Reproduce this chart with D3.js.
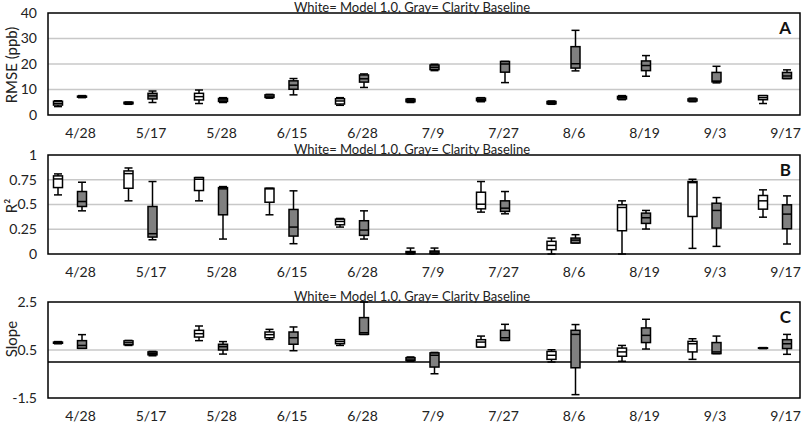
<!DOCTYPE html>
<html><head><meta charset="utf-8">
<script src="https://cdn.jsdelivr.net/npm/d3@7/dist/d3.min.js"></script>
<style>body{margin:0;background:#fff;} svg{display:block;font-family:Lato,"Open Sans",sans-serif;}</style>
</head><body><svg id="c" width="803" height="423"></svg>
<script>
const dates = ["4/28","5/17","5/28","6/15","6/28","7/9","7/27","8/6","8/19","9/3","9/17"];
const titleText = "White= Model 1.0, Gray= Clarity Baseline";
// [min, q1, median, q3, max]
const rmseWhite = [[3.3,3.9,4.6,5.4,5.6],[4.2,4.4,4.7,5.0,5.1],[4.5,5.9,7.2,8.5,9.8],[6.6,6.9,7.4,7.9,8.1],[3.8,4.3,5.5,6.4,6.8],[4.9,5.2,5.7,6.2,6.4],[5.2,5.6,6.0,6.6,6.8],[4.2,4.4,4.8,5.3,5.5],[6.0,6.3,6.8,7.3,7.6],[5.2,5.5,5.9,6.3,6.6],[4.5,6.0,6.8,7.6,7.6]];
const rmseGray = [[6.8,7.0,7.2,7.4,7.6],[4.9,6.3,7.5,8.5,9.4],[4.9,5.3,5.9,6.5,6.8],[7.9,10.1,11.7,13.4,14.3],[10.8,12.9,14.2,15.7,16.1],[17.4,17.8,18.7,19.6,19.9],[12.7,16.8,20.0,21.0,21.0],[17.3,18.4,20.1,26.8,33.2],[15.2,17.4,19.4,21.2,23.3],[12.6,13.0,13.3,16.7,19.1],[14.3,14.3,15.3,16.7,17.7]];
const r2White = [[0.597,0.671,0.758,0.789,0.809],[0.537,0.664,0.812,0.839,0.869],[0.537,0.641,0.755,0.772,0.772],[0.396,0.523,0.658,0.664,0.664],[0.272,0.295,0.329,0.352,0.359],[0.0,0.005,0.015,0.025,0.06],[0.423,0.456,0.503,0.624,0.732],[0.0,0.044,0.087,0.128,0.161],[0.0,0.235,0.470,0.497,0.537],[0.057,0.379,0.721,0.732,0.755],[0.372,0.453,0.537,0.591,0.648]];
const r2Gray = [[0.436,0.480,0.530,0.631,0.725],[0.144,0.171,0.205,0.480,0.732],[0.151,0.396,0.658,0.671,0.681],[0.104,0.181,0.272,0.450,0.638],[0.151,0.188,0.242,0.336,0.436],[0.0,0.005,0.02,0.03,0.06],[0.406,0.430,0.463,0.537,0.631],[0.111,0.111,0.14,0.161,0.195],[0.252,0.309,0.366,0.413,0.440],[0.077,0.262,0.440,0.513,0.570],[0.101,0.255,0.403,0.497,0.587]];
const slopeWhite = [[0.76,0.78,0.80,0.83,0.85],[0.69,0.72,0.80,0.88,0.90],[0.89,1.04,1.18,1.32,1.50],[0.94,1.01,1.14,1.25,1.36],[0.69,0.76,0.85,0.93,0.93],[0.03,0.06,0.12,0.18,0.21],[0.625,0.625,0.83,0.93,1.08],[0.0,0.11,0.28,0.44,0.51],[0.03,0.24,0.42,0.58,0.69],[0.11,0.42,0.76,0.86,0.97],[0.56,0.57,0.58,0.59,0.60]];
const slopeGray = [[0.57,0.57,0.69,0.89,1.14],[0.26,0.30,0.36,0.42,0.44],[0.33,0.50,0.64,0.74,0.85],[0.47,0.74,1.01,1.25,1.46],[1.15,1.15,1.22,1.85,2.5],[-0.49,-0.21,0.28,0.38,0.40],[0.90,0.90,1.01,1.32,1.57],[-1.36,-0.24,1.15,1.32,1.56],[0.54,0.81,1.11,1.42,1.78],[0.35,0.35,0.42,0.81,1.08],[0.32,0.56,0.76,0.93,1.15]];
const rmseTicks = [0,10,20,30,40];
const r2Ticks = [0,0.25,0.5,0.75,1];
const slopeTicks = [-1.5,0.5,2.5];

const svg = d3.select("#c");
const L = 48, R = 800;
const x = d3.scalePoint().domain(dates).range([70, 775]);
const off = 12, bw = 9, cw = 8;

const panels = [
  {top:13, bottom:115, domain:[0,40], ticks:rmseTicks, grid:[10,20,30], white:rmseWhite, gray:rmseGray, letter:"A", ylab:"RMSE (ppb)", ylabY:65, fmt:d=>d},
  {top:155, bottom:254, domain:[0,1], ticks:r2Ticks, grid:[0.25,0.5,0.75], white:r2White, gray:r2Gray, letter:"B", ylab:"R²", ylabY:206, fmt:d=>d},
  {top:302, bottom:398, domain:[-1.5,2.5], ticks:slopeTicks, grid:[0.5], white:slopeWhite, gray:slopeGray, letter:"C", ylab:"Slope", ylabY:339, fmt:d=>d, zero:true}
];

panels.forEach(p => {
  const y = d3.scaleLinear().domain(p.domain).range([p.bottom, p.top]);
  const g = svg.append("g");
  g.selectAll(".grid").data(p.grid).join("line")
    .attr("x1", L).attr("x2", R).attr("y1", d=>y(d)).attr("y2", d=>y(d))
    .attr("stroke", "#c8c8c8").attr("stroke-width", 1.5);
  if (p.zero) {
    g.append("line").attr("x1", L).attr("x2", R).attr("y1", y(0)).attr("y2", y(0))
      .attr("stroke", "#000").attr("stroke-width", 1.5);
  }
  const ax = d3.axisLeft(y).tickValues(p.ticks).tickSize(0).tickPadding(11).tickFormat(p.fmt);
  const ag = g.append("g").attr("transform", `translate(${L},0)`).call(ax);
  ag.select(".domain").remove();
  ag.selectAll("text").attr("font-size", 14).attr("fill", "#222").attr("font-family", "Lato, sans-serif");
  const xg = g.append("g").attr("transform", `translate(10,${p.bottom})`)
    .call(d3.axisBottom(x).tickSize(0).tickPadding(13));
  xg.select(".domain").remove();
  xg.selectAll("text").attr("font-size", 14).attr("fill", "#222").attr("font-family", "Lato, sans-serif");
  [[p.white, -off, "#ffffff"], [p.gray, off, "#808080"]].forEach(([data, o, fill]) => {
    const bg = g.selectAll(null).data(data.map((d,i)=>({d, c:x(dates[i]) + o}))).join("g");
    bg.append("line").attr("x1", b=>b.c).attr("x2", b=>b.c)
      .attr("y1", b=>y(b.d[0])).attr("y2", b=>y(b.d[4])).attr("stroke", "#000").attr("stroke-width", 1.5);
    bg.append("line").attr("x1", b=>b.c-cw/2).attr("x2", b=>b.c+cw/2)
      .attr("y1", b=>y(b.d[0])).attr("y2", b=>y(b.d[0])).attr("stroke", "#000").attr("stroke-width", 1.5);
    bg.append("line").attr("x1", b=>b.c-cw/2).attr("x2", b=>b.c+cw/2)
      .attr("y1", b=>y(b.d[4])).attr("y2", b=>y(b.d[4])).attr("stroke", "#000").attr("stroke-width", 1.5);
    bg.append("rect").attr("x", b=>b.c-bw/2).attr("width", bw)
      .attr("y", b=>y(b.d[3])).attr("height", b=>Math.max(0.5, y(b.d[1])-y(b.d[3])))
      .attr("fill", fill).attr("stroke", "#000").attr("stroke-width", 1.5);
    bg.append("line").attr("x1", b=>b.c-bw/2).attr("x2", b=>b.c+bw/2)
      .attr("y1", b=>y(b.d[2])).attr("y2", b=>y(b.d[2])).attr("stroke", "#000").attr("stroke-width", 1.5);
  });
  g.append("rect").attr("x", L).attr("y", p.top).attr("width", R-L).attr("height", p.bottom-p.top)
    .attr("fill", "none").attr("stroke", "#000").attr("stroke-width", 1.5);
  g.append("text").attr("x", 412).attr("y", p.top-1).attr("text-anchor", "middle")
    .attr("font-size", 13).attr("fill", "#222").text(titleText);
  g.append("text").attr("x", 791).attr("y", p.top+21).attr("text-anchor", "end")
    .attr("font-size", 17).attr("font-weight", "bold").attr("fill", "#111").text(p.letter);
  g.append("text").attr("transform", `translate(17,${p.ylabY}) rotate(-90)`).attr("text-anchor", "middle")
    .attr("font-size", 15).attr("fill", "#222").text(p.ylab);
});
</script></body></html>
